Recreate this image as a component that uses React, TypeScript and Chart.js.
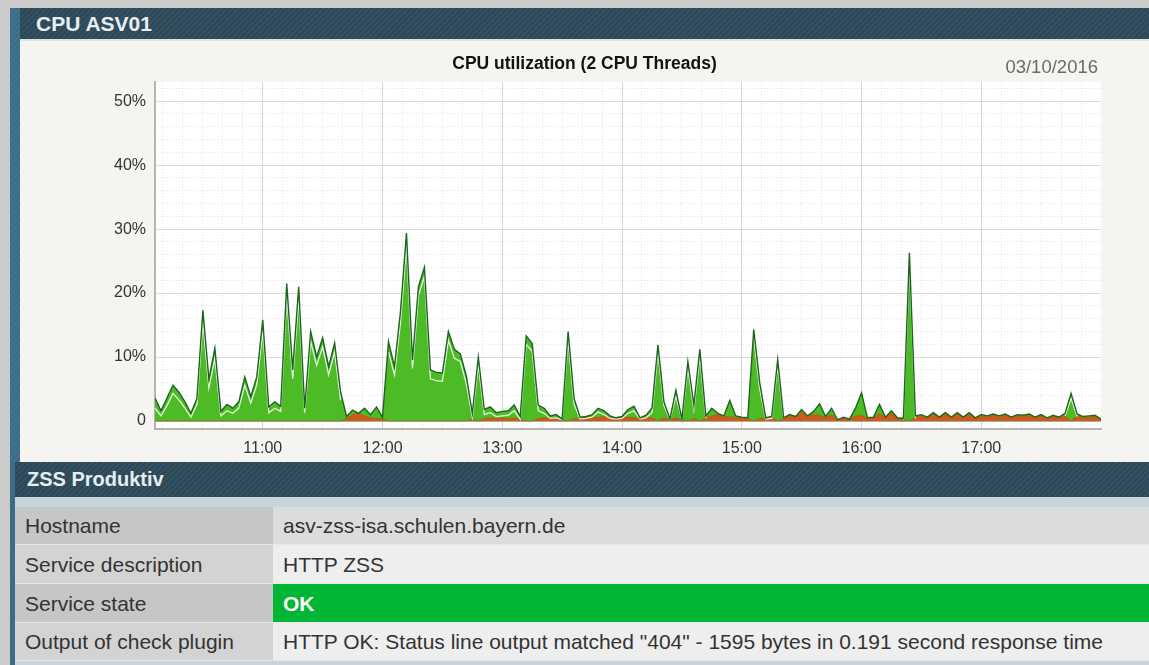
import React, { useEffect, useRef } from "react";
import { Chart, registerables } from "chart.js";

Chart.register(...registerables);

// ---- data ----
const START_MINUTE = 606; // 10:06
const END_MINUTE = 1080; // 18:00
const STEP_MINUTES = 3;

// total CPU utilization (%) - dark green line / green area
const TOTAL = [
  3.6, 1.6, 3.6, 5.6, 4.5, 3.0, 1.2, 3.5, 17.3, 6.5,
  11.4, 1.5, 2.6, 2.0, 3.0, 6.9, 3.8, 6.9, 15.8, 2.2,
  3.0, 2.3, 21.5, 8.0, 21.0, 2.0, 14.0, 10.0, 13.0, 8.5,
  12.2, 4.5, 0.7, 1.7, 1.2, 2.0, 1.0, 2.2, 0.6, 12.4,
  8.5, 17.1, 29.4, 9.5, 21.0, 24.0, 8.0, 7.6, 7.5, 14.0,
  11.2, 10.5, 7.0, 1.2, 10.0, 1.8, 2.2, 1.3, 1.5, 1.6,
  2.5, 0.7, 13.3, 12.1, 2.5, 2.0, 0.8, 1.0, 0.3, 14.0,
  3.5, 0.6, 0.7, 1.0, 2.0, 1.6, 0.8, 0.5, 0.7, 1.8,
  2.3, 0.5, 0.9, 2.0, 11.9, 3.0, 0.3, 4.8, 0.3, 9.3,
  2.5, 11.2, 0.8, 2.0, 1.2, 0.8, 3.2, 0.8, 0.6, 0.5,
  14.3, 6.0, 0.5, 0.7, 9.6, 0.5, 1.0, 0.7, 1.8, 0.8,
  1.5, 2.7, 0.7, 2.0, 0.2, 0.6, 0.3, 2.0, 4.4, 0.5,
  0.6, 2.6, 0.6, 1.6, 0.5, 0.4, 26.3, 0.8, 1.0, 0.6,
  1.3, 0.6, 1.3, 0.6, 1.3, 0.6, 1.3, 0.5, 1.0, 0.8,
  1.1, 0.8, 1.1, 0.6, 1.0, 0.9, 1.1, 0.6, 1.0, 0.5,
  0.9, 0.6, 1.2, 4.3, 1.1, 0.7, 0.8, 0.9, 0.3,
];

// user share (%) - thin white line inside the green area
const USER = [
  2.0, 0.8, 2.4, 4.3, 3.3, 2.0, 0.6, 2.6, 15.5, 5.2,
  9.8, 0.8, 1.6, 1.2, 2.0, 5.6, 2.8, 5.7, 14.0, 1.3,
  2.0, 1.5, 19.5, 6.6, 19.2, 1.3, 12.4, 8.7, 11.6, 7.2,
  10.8, 3.3, null, null, null, null, null, null, null, 10.8,
  7.2, 15.4, 27.5, 8.2, 19.6, 22.6, 6.6, 6.3, 6.2, 12.6,
  9.8, 9.3, 5.8, 0.6, 8.8, 1.0, 1.3, 0.7, 0.8, 0.9,
  1.6, 0.3, 12.0, 10.9, 1.6, 1.2, 0.4, 0.5, 0.2, 12.6,
  2.6, 0.3, 0.4, 0.6, 1.4, 1.0, 0.4, 0.3, 0.4, 1.2,
  1.6, 0.3, 0.5, 1.3, 10.7, 2.4, 0.2, 3.9, 0.2, 8.2,
  1.8, 10.0, 0.4, null, null, null, null, null, null, null,
  13.0, 5.0, 0.3, 0.4, 8.6, 0.3, null, null, null, null,
  null, null, null, null, null, null, null, null, null, null,
  null, null, null, null, null, 0.2, 25.0, 0.4, null, null,
  null, null, null, null, null, null, null, null, null, null,
  null, null, null, null, null, null, null, null, null, null,
  null, null, 0.8, 3.6, 0.7, null, null, null, null,
];

// system share (%) - orange area at the bottom
const SYSTEM = [
  0, 0, 0, 0, 0, 0, 0, 0, 0, 0,
  0, 0, 0, 0, 0, 0, 0, 0, 0, 0,
  0, 0, 0, 0, 0, 0, 0, 0, 0, 0,
  0, 0, 0.4, 1.0, 1.2, 0.8, 0.5, 0.4, 0.3, 0,
  0, 0, 0, 0, 0, 0, 0, 0, 0, 0,
  0, 0, 0, 0.3, 0, 0.4, 0.5, 0.4, 0.5, 0.4,
  0.5, 0.3, 0, 0, 0.4, 0.5, 0.4, 0.5, 0.2, 0,
  0.4, 0.3, 0.5, 0.6, 0.5, 0.8, 0.6, 0.4, 0.5, 0.6,
  0.5, 0.4, 0.6, 0.5, 0, 0.5, 0.2, 0.5, 0.2, 0,
  0.4, 0, 0.5, 0.8, 1.0, 0.6, 0.7, 0.5, 0.5, 0.4,
  0, 0.4, 0.4, 0.6, 0, 0.4, 0.8, 0.6, 1.4, 0.7,
  1.0, 0.9, 0.5, 1.0, 0.2, 0.5, 0.3, 0.8, 0.9, 0.4,
  0.5, 1.2, 0.5, 1.2, 0.4, 0.3, 0, 0.6, 0.8, 0.5,
  1.1, 0.5, 1.1, 0.5, 1.1, 0.5, 1.1, 0.4, 0.8, 0.6,
  0.9, 0.6, 0.9, 0.5, 0.8, 0.7, 0.9, 0.5, 0.8, 0.4,
  0.7, 0.5, 0.8, 0, 0.8, 0.5, 0.6, 0.7, 0.2,
];

const Y_TICKS = [0, 10, 20, 30, 40, 50];
const HOUR_TICKS = [660, 720, 780, 840, 900, 960, 1020];

const PANEL_TITLE = "CPU ASV01";
const CHART_TITLE = "CPU utilization (2 CPU Threads)";
const CHART_DATE = "03/10/2016";
const SECTION_TITLE = "ZSS Produktiv";
const TABLE_LABELS = ["Hostname", "Service description", "Service state", "Output of check plugin"];
const TABLE_VALUES = [
  "asv-zss-isa.schulen.bayern.de",
  "HTTP ZSS",
  "OK",
  'HTTP OK: Status line output matched "404" - 1595 bytes in 0.191 second response time',
];

const FONT = 'Arial, "Liberation Sans", Helvetica, sans-serif';

const fmtTime = (m: number) => `${Math.floor(m / 60)}:${String(m % 60).padStart(2, "0")}`;

function CpuChart() {
  const ref = useRef<HTMLCanvasElement | null>(null);
  useEffect(() => {
    if (!ref.current) return;
    const times = TOTAL.map((_, i) => START_MINUTE + i * STEP_MINUTES);
    const pts = (arr: (number | null)[]) => arr.map((v, i) => ({ x: times[i], y: v }));

    const minorX: number[] = [];
    for (let m = START_MINUTE + 4; m < END_MINUTE; m += 10) if (m % 60 !== 0) minorX.push(m);
    const minorY: number[] = [];
    for (let v = 2; v <= 52; v += 2) if (v % 10 !== 0) minorY.push(v);

    const plotBg = {
      id: "plotBg",
      beforeDraw(chart: any) {
        const { ctx, chartArea } = chart;
        ctx.save();
        ctx.fillStyle = "#ffffff";
        ctx.fillRect(chartArea.left, chartArea.top, chartArea.right - chartArea.left, chartArea.bottom - chartArea.top);
        ctx.restore();
      },
    };

    const chart = new Chart(ref.current, {
      type: "line",
      data: {
        datasets: [
          {
            label: "Total",
            data: pts(TOTAL),
            borderColor: "#1d6420",
            borderWidth: 1.4,
            fill: false,
            pointRadius: 0,
            tension: 0,
            order: 0,
          },
          {
            label: "User",
            data: pts(USER),
            borderColor: "rgba(255,255,255,0.85)",
            borderWidth: 1.3,
            fill: false,
            pointRadius: 0,
            tension: 0,
            spanGaps: false,
            order: 1,
          },
          {
            label: "System",
            data: pts(SYSTEM),
            borderColor: "#b64a12",
            borderWidth: 0.5,
            backgroundColor: "#cf5a1c",
            fill: "origin",
            pointRadius: 0,
            tension: 0,
            order: 2,
          },
          {
            label: "Utilization",
            data: pts(TOTAL),
            borderWidth: 0,
            borderColor: "rgba(0,0,0,0)",
            backgroundColor: "#4dbb26",
            fill: "origin",
            pointRadius: 0,
            tension: 0,
            order: 3,
          },
        ],
      },
      options: {
        animation: false,
        responsive: true,
        maintainAspectRatio: false,
        layout: { padding: 0 },
        plugins: {
          legend: { display: false },
          tooltip: { enabled: false },
          title: {
            display: true,
            text: CHART_TITLE,
            color: "#111",
            font: { family: FONT, size: 17.5, weight: "bold", lineHeight: 1.2 },
            padding: { top: 13, bottom: 7 },
          },
        },
        scales: {
          x: {
            type: "linear",
            position: "bottom",
            min: START_MINUTE,
            max: END_MINUTE,
            afterBuildTicks: (s: any) => {
              s.ticks = HOUR_TICKS.map((v) => ({ value: v }));
            },
            afterFit: (s: any) => {
              s.height = 33;
            },
            grid: { color: "#d6d6d6", lineWidth: 1, drawTicks: false },
            border: { display: true, color: "#b4b4b4", width: 2 },
            ticks: {
              callback: (v: any) => fmtTime(Number(v)),
              color: "#333",
              font: { family: FONT, size: 16 },
              padding: 10,
              maxRotation: 0,
              autoSkip: false,
            },
          },
          xMinor: {
            type: "linear",
            position: "bottom",
            min: START_MINUTE,
            max: END_MINUTE,
            afterBuildTicks: (s: any) => {
              s.ticks = minorX.map((v) => ({ value: v }));
            },
            afterFit: (s: any) => {
              s.height = 0;
            },
            grid: { color: "#e2e2e2", lineWidth: 1, drawTicks: false },
            border: { display: false, dash: [1, 2] },
            ticks: { display: false },
          },
          y: {
            type: "linear",
            position: "left",
            min: -1.25,
            max: 53,
            afterBuildTicks: (s: any) => {
              s.ticks = Y_TICKS.map((v) => ({ value: v }));
            },
            afterFit: (s: any) => {
              s.width = 135;
            },
            grid: {
              color: (c: any) => (c.tick && c.tick.value === 0 ? "#2b7a2b" : "#dadada"),
              lineWidth: (c: any) => (c.tick && c.tick.value === 0 ? 1.5 : 1),
              drawTicks: false,
            },
            border: { display: true, color: "#b4b4b4", width: 2 },
            ticks: {
              callback: (v: any) => (Number(v) === 0 ? "0" : `${v}%`),
              color: "#333",
              font: { family: FONT, size: 16 },
              padding: 9,
            },
          },
          yMinor: {
            type: "linear",
            position: "left",
            min: -1.25,
            max: 53,
            afterBuildTicks: (s: any) => {
              s.ticks = minorY.map((v) => ({ value: v }));
            },
            afterFit: (s: any) => {
              s.width = 0;
            },
            grid: { color: "#e4e4e4", lineWidth: 1, drawTicks: false },
            border: { display: false, dash: [1, 2] },
            ticks: { display: false },
          },
          yRightSpace: {
            type: "linear",
            position: "right",
            min: -1.25,
            max: 53,
            afterFit: (s: any) => {
              s.width = 48;
            },
            grid: { display: false, drawTicks: false },
            border: { display: false },
            ticks: { display: false },
          },
        },
      } as any,
      plugins: [plotBg],
    });
    return () => chart.destroy();
  }, []);
  return <canvas ref={ref} />;
}

const hatch = "repeating-linear-gradient(135deg, #2c4858 0px, #2c4858 2px, #33515f 2px, #33515f 4px)";

export default function App() {
  const rowTops = [507, 545, 584, 623];
  const rowHeights = [38, 39, 39, 38];
  const labelBg = ["#c6c6c6", "#d3d3d3", "#c6c6c6", "#d3d3d3"];
  const valueBg = ["#dcdcdc", "#eeeeee", "#00b634", "#eeeeee"];
  return (
    <div style={{ position: "absolute", left: 0, top: 0, width: 1149, height: 665, overflow: "hidden", background: "#cbcbcb", fontFamily: FONT }}>
      {/* left blue strip */}
      <div style={{ position: "absolute", left: 10, top: 8, width: 10, height: 454, background: "repeating-linear-gradient(135deg, #3b6b85 0px, #3b6b85 2px, #41738d 2px, #41738d 4px)" }} />
      <div style={{ position: "absolute", left: 10, top: 462, width: 5, height: 203, background: "#3b6b85" }} />
      {/* top header */}
      <div style={{ position: "absolute", left: 20, top: 8, width: 1129, height: 31, background: hatch }} />
      <div style={{ position: "absolute", left: 36, top: 8, height: 31, lineHeight: "31px", color: "#e6eef2", fontWeight: "bold", fontSize: 21 }}>{PANEL_TITLE}</div>
      <div style={{ position: "absolute", left: 20, top: 39, width: 1129, height: 2, background: "#d9e4ea" }} />
      {/* chart area */}
      <div style={{ position: "absolute", left: 20, top: 41, width: 1129, height: 421, background: "#f6f4f0" }}>
        <div style={{ position: "relative", width: 1129, height: 421 }}>
          <CpuChart />
        </div>
      </div>
      <div style={{ position: "absolute", right: 51, top: 56, fontSize: 18.5, color: "#6a6a6a", lineHeight: "22px" }}>{CHART_DATE}</div>
      {/* section header */}
      <div style={{ position: "absolute", left: 15, top: 462, width: 1134, height: 35, background: hatch }} />
      <div style={{ position: "absolute", left: 27, top: 462, height: 35, lineHeight: "35px", color: "#e6eef2", fontWeight: "bold", fontSize: 20 }}>{SECTION_TITLE}</div>
      <div style={{ position: "absolute", left: 15, top: 497, width: 1134, height: 10, background: "#c9d5dc" }} />
      {TABLE_LABELS.map((lab, i) => (
        <React.Fragment key={lab}>
          <div style={{ position: "absolute", left: 15, top: rowTops[i], width: 258, height: rowHeights[i], background: labelBg[i], borderBottom: "1px solid #e6e6e6", boxSizing: "border-box" }}>
            <span style={{ position: "absolute", left: 10, top: 0, lineHeight: `${rowHeights[i]}px`, fontSize: 21, color: "#333", whiteSpace: "nowrap" }}>{lab}</span>
          </div>
          <div style={{ position: "absolute", left: 273, top: rowTops[i], width: 876, height: rowHeights[i], background: valueBg[i], borderBottom: "1px solid #e6e6e6", boxSizing: "border-box" }}>
            <span style={{ position: "absolute", left: 10, top: 0, lineHeight: `${rowHeights[i]}px`, fontSize: 21, color: i === 2 ? "#ffffff" : "#333", fontWeight: i === 2 ? "bold" : "normal", whiteSpace: "nowrap" }}>{TABLE_VALUES[i]}</span>
          </div>
        </React.Fragment>
      ))}
      <div style={{ position: "absolute", left: 15, top: 661, width: 1134, height: 4, background: "#c9d5dc" }} />
    </div>
  );
}
